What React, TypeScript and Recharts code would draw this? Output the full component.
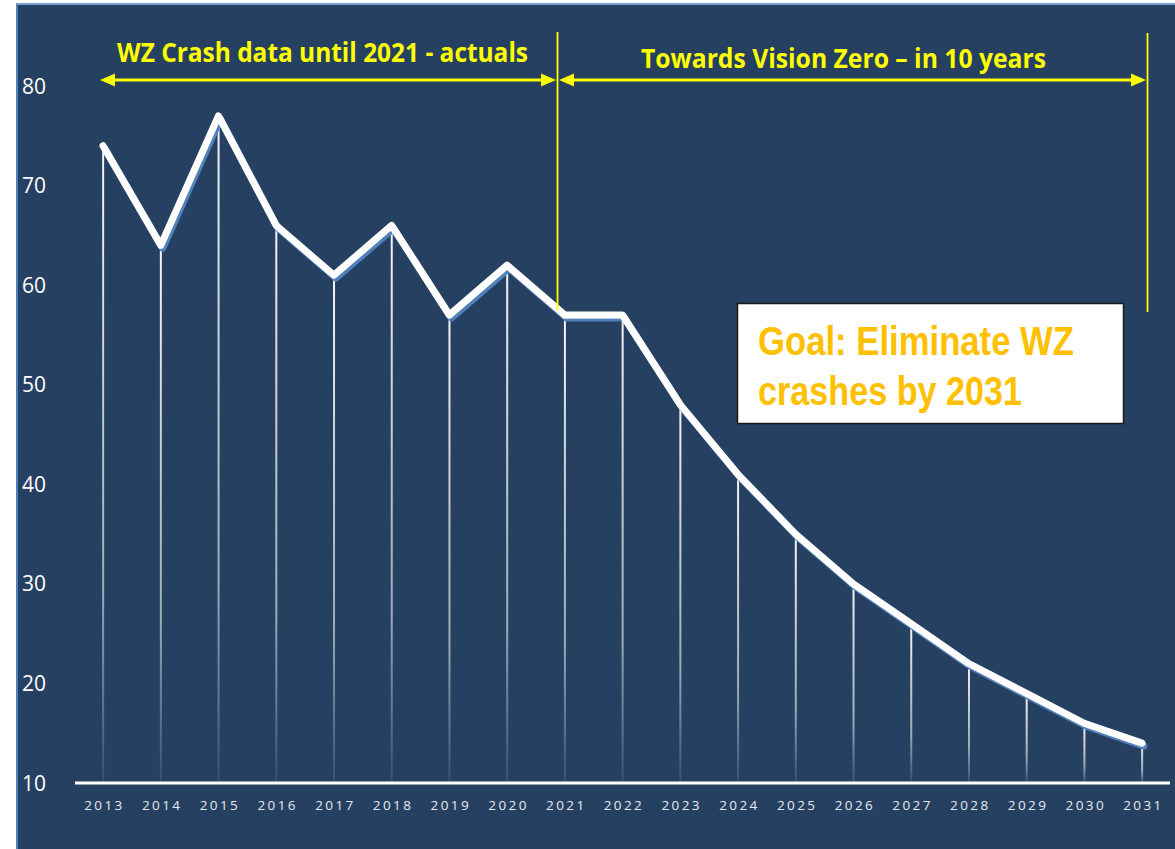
import { Bar, ComposedChart, Line, XAxis, YAxis } from 'recharts';

const years = [2013, 2014, 2015, 2016, 2017, 2018, 2019, 2020, 2021, 2022, 2023, 2024, 2025, 2026, 2027, 2028, 2029, 2030, 2031];
const crashes = [74, 64, 77, 66, 61, 66, 57, 62, 57, 57, 48, 41, 35, 30, 26, 22, 19, 16, 14];
const yTicks = [10, 20, 30, 40, 50, 60, 70, 80];

const actualsLabel = 'WZ Crash data until 2021 - actuals';
const visionLabel = 'Towards Vision Zero – in 10 years';
const goalLines = ['Goal: Eliminate WZ', 'crashes by 2031'];

const data = years.map((year, i) => ({ year, crashes: crashes[i] }));

const NAVY = '#264061';
const YELLOW = '#FFFF00';

function YTick(props: any) {
  const { y, payload } = props;
  return (
    <text x={22} y={y} dy={7.5} fill="#ffffff" fontSize={21} fontFamily="'Open Sans', sans-serif" textAnchor="start">
      {payload.value}
    </text>
  );
}

function XTick(props: any) {
  const { x, y, payload } = props;
  return (
    <text x={x + 1.5} y={y} dy={19} fill="#e6eaf0" fontSize={13.5} letterSpacing={2.4} fontFamily="'Open Sans', sans-serif" textAnchor="middle">
      {payload.value}
    </text>
  );
}

// yellow brackets + goal box sit on top of the chart
function Annotations() {
  const font = "'Open Sans', sans-serif";
  return (
    <svg width={1175} height={849} style={{ position: 'absolute', left: 0, top: 0, pointerEvents: 'none' }}>
      <line x1={557.5} y1={32} x2={557.5} y2={310} stroke={YELLOW} strokeWidth={1.8} />
      <line x1={1147.5} y1={33} x2={1147.5} y2={312} stroke={YELLOW} strokeWidth={1.8} />

      <line x1={108} y1={80} x2={549} y2={80} stroke={YELLOW} strokeWidth={3} />
      <polygon points="100,80 115,73.5 115,86.5" fill={YELLOW} />
      <polygon points="556,80 541,73.5 541,86.5" fill={YELLOW} />

      <line x1={567} y1={80} x2={1138} y2={80} stroke={YELLOW} strokeWidth={3} />
      <polygon points="559,80 574,73.5 574,86.5" fill={YELLOW} />
      <polygon points="1146,80 1131,73.5 1131,86.5" fill={YELLOW} />

      <text x={117} y={62} fill={YELLOW} fontSize={26} fontWeight={700} fontFamily={font} textLength={411} lengthAdjust="spacingAndGlyphs">
        {actualsLabel}
      </text>
      <text x={641} y={68} fill={YELLOW} fontSize={26} fontWeight={700} fontFamily={font} textLength={405} lengthAdjust="spacingAndGlyphs">
        {visionLabel}
      </text>

      <rect x={737.5} y={303.5} width={386} height={120} fill="#ffffff" stroke="#1a1a1a" strokeWidth={1.5} />
      <text x={758} y={355} fill="#FFC000" fontSize={41} fontWeight={700} fontFamily="'Liberation Sans', Arial, sans-serif" textLength={316} lengthAdjust="spacingAndGlyphs">
        {goalLines[0]}
      </text>
      <text x={758} y={405} fill="#FFC000" fontSize={41} fontWeight={700} fontFamily="'Liberation Sans', Arial, sans-serif" textLength={264} lengthAdjust="spacingAndGlyphs">
        {goalLines[1]}
      </text>
    </svg>
  );
}

export default function App() {
  return (
    <div style={{ position: 'absolute', left: 0, top: 0, width: 1175, height: 849, background: '#ffffff', overflow: 'hidden' }}>
      <div
        style={{
          position: 'absolute',
          left: 16,
          top: 3,
          width: 1159,
          height: 846,
          background: NAVY,
          borderLeft: '2px solid #4f81bd',
          borderTop: '2px solid #7aa0d0',
          boxSizing: 'border-box',
        }}
      />
      <div style={{ position: 'absolute', left: 0, top: 0 }}>
        <ComposedChart width={1175} height={849} data={data} margin={{ top: 86, right: 5, bottom: 36, left: 0 }}>
          <defs>
            <linearGradient id="dropFade" x1="0" y1="0" x2="0" y2="1">
              <stop offset="0%" stopColor="#ffffff" stopOpacity={0.95} />
              <stop offset="70%" stopColor="#ffffff" stopOpacity={0.55} />
              <stop offset="100%" stopColor="#ffffff" stopOpacity={0.08} />
            </linearGradient>
            <filter id="lineShadow" x="-5%" y="-5%" width="110%" height="110%">
              <feDropShadow dx={2} dy={3} stdDeviation={0.4} floodColor="#4f81bd" floodOpacity={1} />
            </filter>
          </defs>
          <XAxis
            type="number"
            dataKey="year"
            domain={[2013, 2031]}
            ticks={years}
            interval={0}
            padding={{ left: 28, right: 28 }}
            height={30}
            axisLine={{ stroke: '#ffffff', strokeWidth: 3 }}
            tickLine={false}
            tick={<XTick />}
          />
          <YAxis
            type="number"
            domain={[10, 80]}
            ticks={yTicks}
            width={75}
            axisLine={false}
            tickLine={false}
            tick={<YTick />}
          />
          <Bar dataKey="crashes" barSize={2} fill="url(#dropFade)" isAnimationActive={false} />
          <Line
            type="linear"
            dataKey="crashes"
            stroke="#ffffff"
            strokeWidth={7}
            strokeLinejoin="round"
            strokeLinecap="round"
            dot={false}
            activeDot={false}
            filter="url(#lineShadow)"
            isAnimationActive={false}
          />
        </ComposedChart>
      </div>
      <Annotations />
    </div>
  );
}
